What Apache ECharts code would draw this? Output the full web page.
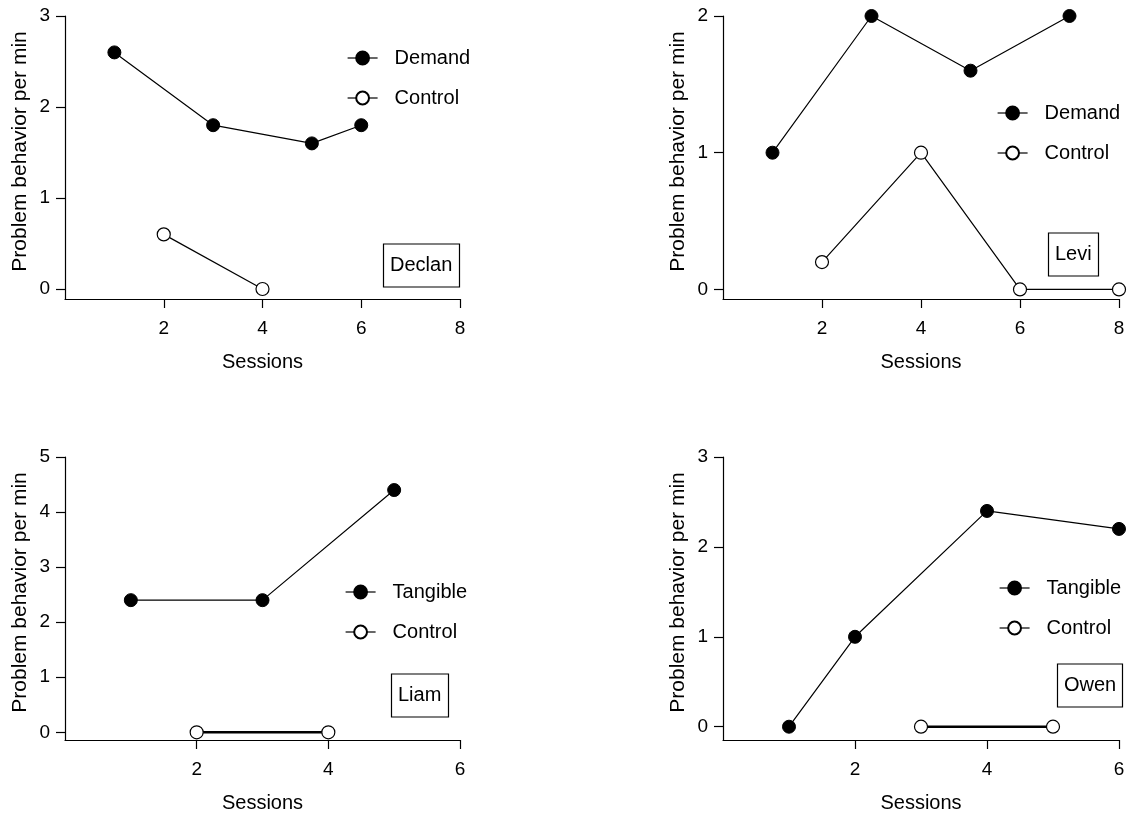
<!DOCTYPE html>
<html>
<head>
<meta charset="utf-8">
<script src="https://cdn.jsdelivr.net/npm/echarts@6/dist/echarts.min.js"></script>
<style>
  html, body { margin: 0; padding: 0; background: #fff; }
  #chart { width: 1133px; height: 819px; }
</style>
</head>
<body>
<div id="chart"></div>
<script>
// Session numbers and rates of problem behavior (responses per minute)
const declanDemandSessions = [1, 3, 5, 6];
const declanDemandRates = [2.6, 1.8, 1.6, 1.8];
const declanControlSessions = [2, 4];
const declanControlRates = [0.6, 0];

const leviDemandSessions = [1, 3, 5, 7];
const leviDemandRates = [1, 2, 1.6, 2];
const leviControlSessions = [2, 4, 6, 8];
const leviControlRates = [0.2, 1, 0, 0];

const liamTangibleSessions = [1, 3, 5];
const liamTangibleRates = [2.4, 2.4, 4.4];
const liamControlSessions = [2, 4];
const liamControlRates = [0, 0];

const owenTangibleSessions = [1, 2, 4, 6];
const owenTangibleRates = [0, 1, 2.4, 2.2];
const owenControlSessions = [3, 5];
const owenControlRates = [0, 0];

// Tick values for each panel
const declanXTicks = [2, 4, 6, 8];
const declanYTicks = [0, 1, 2, 3];
const leviXTicks = [2, 4, 6, 8];
const leviYTicks = [0, 1, 2];
const liamXTicks = [2, 4, 6];
const liamYTicks = [0, 1, 2, 3, 4, 5];
const owenXTicks = [2, 4, 6];
const owenYTicks = [0, 1, 2, 3];

const participants = ['Declan', 'Levi', 'Liam', 'Owen'];
const xAxisTitle = 'Sessions';
const yAxisTitle = 'Problem behavior per min';

const FONT = "'Liberation Sans', Arial, sans-serif";

const zip = (xs, ys) => xs.map((x, i) => [x, ys[i]]);

// Panel layout: grid box, axis ranges, legend spot, name-box spot
const panels = [
  { grid: { left: 65, top: 16, width: 395, height: 283 }, xMax: 8, yMin: -0.11, yMax: 3,
    xTicks: declanXTicks, yTicks: declanYTicks, legend: { left: 347, top: 46 }, box: { left: 383, top: 244 },
    names: ['Demand', 'Control'],
    data: [zip(declanDemandSessions, declanDemandRates), zip(declanControlSessions, declanControlRates)], thick: false },
  { grid: { left: 723, top: 16, width: 396, height: 283 }, xMax: 8, yMin: -0.07, yMax: 2,
    xTicks: leviXTicks, yTicks: leviYTicks, legend: { left: 997, top: 101 }, box: { left: 1048, top: 233 },
    names: ['Demand', 'Control'],
    data: [zip(leviDemandSessions, leviDemandRates), zip(leviControlSessions, leviControlRates)], thick: false },
  { grid: { left: 65, top: 457, width: 395, height: 283 }, xMax: 6, yMin: -0.14, yMax: 5,
    xTicks: liamXTicks, yTicks: liamYTicks, legend: { left: 345, top: 580 }, box: { left: 391, top: 674 },
    names: ['Tangible', 'Control'],
    data: [zip(liamTangibleSessions, liamTangibleRates), zip(liamControlSessions, liamControlRates)], thick: true },
  { grid: { left: 723, top: 457, width: 396, height: 283 }, xMax: 6, yMin: -0.148, yMax: 3,
    xTicks: owenXTicks, yTicks: owenYTicks, legend: { left: 999, top: 576 }, box: { left: 1057, top: 664 },
    names: ['Tangible', 'Control'],
    data: [zip(owenTangibleSessions, owenTangibleRates), zip(owenControlSessions, owenControlRates)], thick: true }
];

const axisLine = { show: true, onZero: false, lineStyle: { color: '#000', width: 1.2 } };

const option = {
  backgroundColor: '#fff',
  animation: false,
  grid: panels.map(p => Object.assign({ containLabel: false }, p.grid)),
  xAxis: panels.map((p, i) => ({
    type: 'value', gridIndex: i, min: 0, max: p.xMax,
    name: xAxisTitle, nameLocation: 'middle', nameGap: 53,
    nameTextStyle: { fontFamily: FONT, fontSize: 20, color: '#000' },
    axisLine: axisLine,
    axisTick: { show: true, length: 9, customValues: p.xTicks, lineStyle: { color: '#000', width: 1.2 } },
    axisLabel: { customValues: p.xTicks, margin: 20, fontFamily: FONT, fontSize: 19, color: '#000' },
    splitLine: { show: false }
  })),
  yAxis: panels.map((p, i) => ({
    type: 'value', gridIndex: i, min: p.yMin, max: p.yMax,
    name: yAxisTitle, nameLocation: 'middle', nameGap: 34,
    nameTextStyle: { fontFamily: FONT, fontSize: 21, color: '#000', padding: [0, 0, 0, 12] },
    axisLine: axisLine,
    axisTick: { show: true, length: 9, customValues: p.yTicks, lineStyle: { color: '#000', width: 1.2 } },
    axisLabel: { customValues: p.yTicks, margin: 15, fontFamily: FONT, fontSize: 19, color: '#000' },
    splitLine: { show: false }
  })),
  title: panels.map((p, i) => ({
    text: participants[i], left: p.box.left, top: p.box.top,
    borderColor: '#000', borderWidth: 1.2, padding: [9.5, 7],
    textStyle: { fontFamily: FONT, fontSize: 20, lineHeight: 24, fontWeight: 'normal', color: '#000' }
  })),
  legend: panels.map((p, i) => ({
    orient: 'vertical', left: p.legend.left, top: p.legend.top, padding: 0,
    data: p.names, itemWidth: 30, itemHeight: 16, itemGap: 16,
    lineStyle: { width: 1.2 },
    selectedMode: false,
    textStyle: { fontFamily: FONT, fontSize: 20, lineHeight: 24, color: '#000', padding: [0, 0, 0, 12] }
  })),
  series: panels.flatMap((p, i) => [
    {
      type: 'line', name: p.names[0], xAxisIndex: i, yAxisIndex: i, data: p.data[0],
      symbol: 'circle', symbolSize: 13, clip: false,
      lineStyle: { color: '#000', width: 1.2 },
      itemStyle: { color: '#000', borderColor: '#000', borderWidth: 1 }
    },
    {
      type: 'line', name: p.names[1], xAxisIndex: i, yAxisIndex: i, data: p.data[1],
      symbol: 'circle', symbolSize: 13, clip: false,
      lineStyle: { color: '#000', width: p.thick ? 2.4 : 1.2 },
      itemStyle: { color: '#fff', borderColor: '#000', borderWidth: 1.2 }
    }
  ])
};

const chart = echarts.init(document.getElementById('chart'), null, { renderer: 'canvas' });
chart.setOption(option);
</script>
</body>
</html>
